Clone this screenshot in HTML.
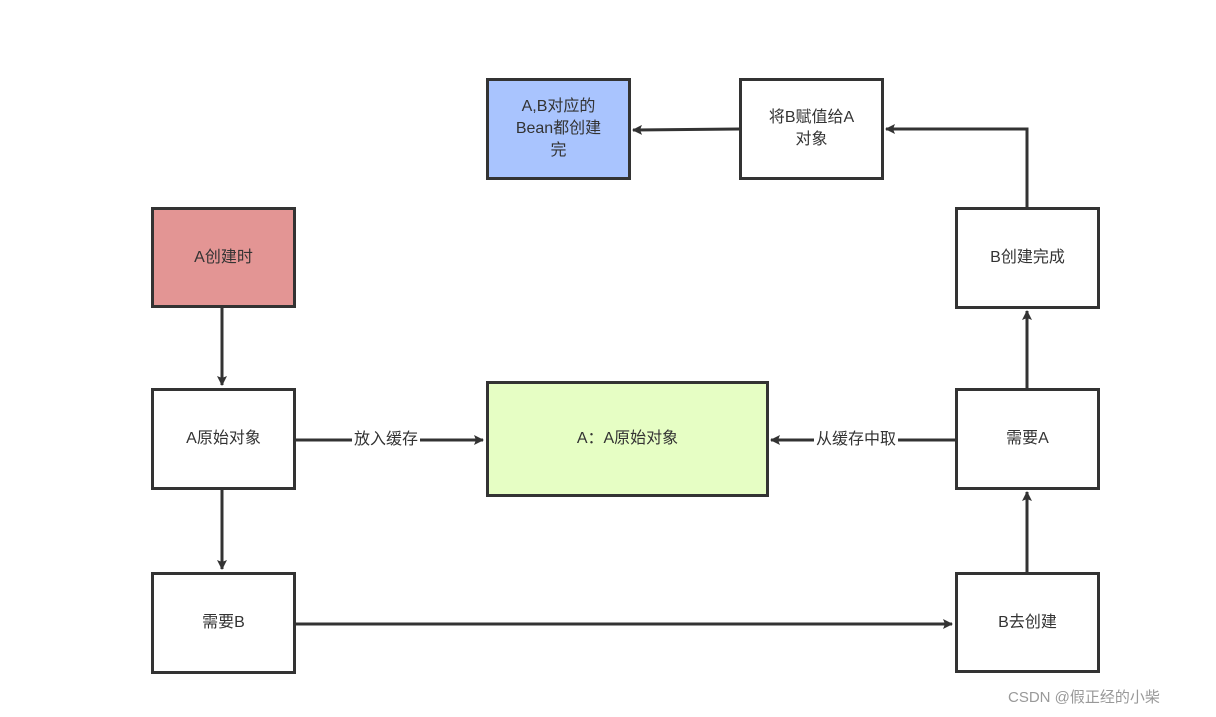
<!DOCTYPE html>
<html><head><meta charset="utf-8"><style>
body{margin:0;width:1216px;height:717px;background:#fff;overflow:hidden;position:relative;font-family:"Liberation Sans","Noto Sans CJK SC",sans-serif;}
.b{position:absolute;box-sizing:border-box;border:3px solid #333;display:flex;align-items:center;justify-content:center;text-align:center;font-size:16px;color:#333;line-height:22px;}
svg{position:absolute;left:0;top:0}
.l{position:absolute;font-size:16px;color:#333;background:#fff;line-height:20px;}
</style></head><body>
<svg width="1216" height="717">
<defs><marker id="a" markerWidth="10" markerHeight="10" refX="9" refY="5" orient="auto" markerUnits="userSpaceOnUse"><path d="M0,0 L10,5 L0,10 L2,5z" fill="#333"/></marker></defs>
<g stroke="#333" stroke-width="3" fill="none">
<line x1="222" y1="307" x2="222" y2="385" marker-end="url(#a)"/>
<line x1="222" y1="489" x2="222" y2="569" marker-end="url(#a)"/>
<line x1="295" y1="624" x2="952" y2="624" marker-end="url(#a)"/>
<line x1="1027" y1="572" x2="1027" y2="492" marker-end="url(#a)"/>
<line x1="1027" y1="388" x2="1027" y2="311" marker-end="url(#a)"/>
<polyline points="1027,207 1027,129 886,129" marker-end="url(#a)"/>
<line x1="739" y1="129" x2="633" y2="130" marker-end="url(#a)"/>
<line x1="295" y1="440" x2="483" y2="440" marker-end="url(#a)"/>
<line x1="955" y1="440" x2="771" y2="440" marker-end="url(#a)"/>
</g></svg>
<div class="b" style="left:486px;top:78px;width:145px;height:102px;background:#a9c4fe">A,B对应的<br>Bean都创建<br>完</div>
<div class="b" style="left:739px;top:78px;width:145px;height:102px;background:#fff">将B赋值给A<br>对象</div>
<div class="b" style="left:151px;top:207px;width:145px;height:101px;background:#e39594">A创建时</div>
<div class="b" style="left:955px;top:207px;width:145px;height:102px;background:#fff">B创建完成</div>
<div class="b" style="left:151px;top:388px;width:145px;height:102px;background:#fff">A原始对象</div>
<div class="b" style="left:486px;top:381px;width:283px;height:116px;background:#e6fec4">A：A原始对象</div>
<div class="b" style="left:955px;top:388px;width:145px;height:102px;background:#fff">需要A</div>
<div class="b" style="left:151px;top:572px;width:145px;height:102px;background:#fff">需要B</div>
<div class="b" style="left:955px;top:572px;width:145px;height:101px;background:#fff">B去创建</div>
<div class="l" style="left:352px;top:430px;padding:0 2px">放入缓存</div>
<div class="l" style="left:814px;top:430px;padding:0 2px">从缓存中取</div>
<div style="position:absolute;left:1008px;top:686px;font-size:15px;color:#999">CSDN @假正经的小柴</div>
</body></html>
